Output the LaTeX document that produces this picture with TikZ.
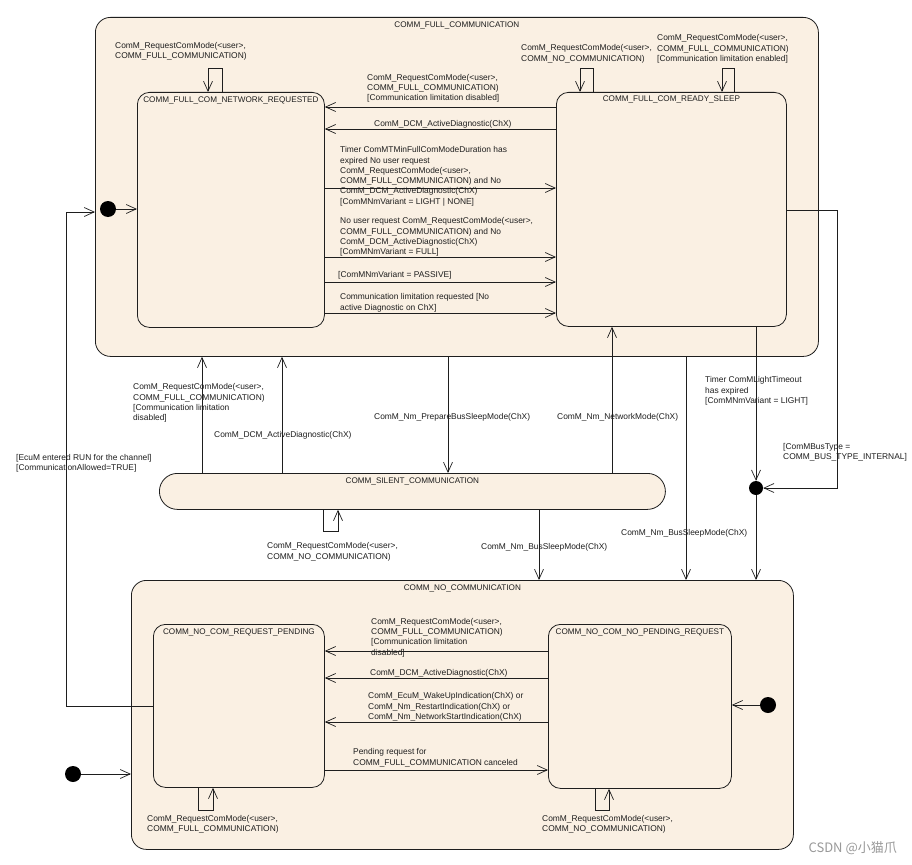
\documentclass[tikz,border=0pt]{standalone}
\usepackage{fontspec}
\setmainfont{Liberation Sans}
\newfontfamily\cjkfont{Noto Sans CJK SC}
\usetikzlibrary{arrows.meta}
\definecolor{stfill}{RGB}{250,240,227}
\definecolor{ink}{RGB}{30,30,30}
\begin{document}
\begin{tikzpicture}[x=1pt,y=-1pt,
  box/.style={draw=ink,line width=0.8pt,fill=stfill,rounded corners=12pt,inner sep=0pt,anchor=north west},
  lbl/.style={font=\fontsize{8.4}{10.3}\selectfont,align=left,inner sep=0pt,anchor=north west,text=ink},
  ttl/.style={lbl,font=\fontsize{8.15}{10.3}\selectfont,anchor=north,yshift=-4.5pt},
  tr/.style={draw=ink,line width=0.7pt,-{Straight Barb[length=10pt,width=9pt,line width=0.7pt]}},
  initdot/.style={circle,fill=black,inner sep=0pt,minimum size=16pt},
]
\useasboundingbox (0,0) rectangle (912,864);
\fill[white] (0,0) rectangle (912,864);

% states
\node[box,rounded corners=15pt,minimum width=723pt,minimum height=339pt,label={[ttl]north:COMM\_FULL\_COMMUNICATION}] (FULL) at (95,17) {};
\node[box,minimum width=187pt,minimum height=235pt,label={[ttl]north:COMM\_FULL\_COM\_NETWORK\_REQUESTED}] (NR) at (137,92) {};
\node[box,minimum width=230pt,minimum height=234pt,label={[ttl,yshift=1pt]north:COMM\_FULL\_COM\_READY\_SLEEP}] (RS) at (556,92) {};
\node[box,rounded corners=18pt,minimum width=506pt,minimum height=36pt,label={[ttl]north:COMM\_SILENT\_COMMUNICATION}] (SIL) at (159,473) {};
\node[box,rounded corners=15pt,minimum width=662pt,minimum height=269pt,label={[ttl]north:COMM\_NO\_COMMUNICATION}] (NOC) at (131,580) {};
\node[box,minimum width=171pt,minimum height=163pt,label={[ttl]north:COMM\_NO\_COM\_REQUEST\_PENDING}] (RP) at (153,624) {};
\node[box,minimum width=183pt,minimum height=164pt,label={[ttl]north:COMM\_NO\_COM\_NO\_PENDING\_REQUEST}] (NPR) at (548,624) {};

% pseudo states
\node[initdot] (i1) at (108,209) {};
\node[initdot] (i2) at (73,774) {};
\node[initdot] (i3) at (768,705) {};
\node[initdot,minimum size=14pt] (jn) at (756,488) {};
\coordinate (bt) at (837,0);
\coordinate (ec) at (66,0);

% transitions inside FULL
\draw[tr] (NR.north -| 222,0) -- ++(0,-24) -| (NR.north -| 208,0);
\draw[tr] (RS.north -| 593,0) -- ++(0,-24) -| (RS.north -| 580,0);
\draw[tr] (RS.north -| 734,0) -- ++(0,-24) -| (RS.north -| 722,0);
\draw[tr] (RS.west |- 0,107) -- (NR.east |- 0,107);
\draw[tr] (RS.west |- 0,129) -- (NR.east |- 0,129);
\draw[tr] (NR.east |- 0,188) -- (RS.west |- 0,188);
\draw[tr] (NR.east |- 0,257) -- (RS.west |- 0,257);
\draw[tr] (NR.east |- 0,282) -- (RS.west |- 0,282);
\draw[tr] (NR.east |- 0,313) -- (RS.west |- 0,313);
\draw[tr] (i1) -- (NR.west |- i1);

% FULL <-> SILENT, NO
\draw[tr] (SIL.north -| 202,0) -- (FULL.south -| 202,0);
\draw[tr] (SIL.north -| 282,0) -- (FULL.south -| 282,0);
\draw[tr] (FULL.south -| 448,0) -- (SIL.north -| 448,0);
\draw[tr] (SIL.north -| 612,0) -- (RS.south -| 612,0);
\draw[tr] (FULL.south -| 686,0) -- (NOC.north -| 686,0);
\draw[tr] (RS.south -| jn) -- (jn);
\draw[tr] (RS.east |- 0,210) -- (bt |- 0,210) -- (bt |- jn) -- (jn);
\draw[tr] (jn) -- (NOC.north -| jn);
\draw[tr] (SIL.south -| 539,0) -- (NOC.north -| 539,0);
\draw[tr] (SIL.south -| 323,0) -- ++(0,22) -| (SIL.south -| 338,0);
\draw[tr] (RP.west |- 0,706) -- (ec |- 0,706) -- (ec |- 0,212) -- (FULL.west |- 0,212);

% transitions inside NO
\draw[tr] (NPR.west |- 0,651) -- (RP.east |- 0,651);
\draw[tr] (NPR.west |- 0,678) -- (RP.east |- 0,678);
\draw[tr] (NPR.west |- 0,722) -- (RP.east |- 0,722);
\draw[tr] (RP.east |- 0,770) -- (NPR.west |- 0,770);
\draw[tr] (RP.south -| 198,0) -- ++(0,23) -| (RP.south -| 213,0);
\draw[tr] (NPR.south -| 595,0) -- ++(0,22) -| (NPR.south -| 609,0);
\draw[tr] (i2) -- (NOC.west |- i2);
\draw[tr] (i3) -- (NPR.east |- i3);

% labels
\node[lbl] (lnrloop) at (115,42) {ComM\_RequestComMode(<user>,\\COMM\_FULL\_COMMUNICATION)};
\node[lbl] (lrsloopa) at (521,44.5) {ComM\_RequestComMode(<user>,\\COMM\_NO\_COMMUNICATION)};
\node[lbl] (lrsloopb) at (657,34.5) {ComM\_RequestComMode(<user>,\\COMM\_FULL\_COMMUNICATION)\\{[}Communication limitation enabled]};
\node[lbl] (lta) at (367,74) {ComM\_RequestComMode(<user>,\\COMM\_FULL\_COMMUNICATION)\\{[}Communication limitation disabled]};
\node[lbl] (ltb) at (374,120) {ComM\_DCM\_ActiveDiagnostic(ChX)};
\node[lbl] (ltc) at (340,146.5) {Timer ComMTMinFullComModeDuration has\\expired No user request\\ComM\_RequestComMode(<user>,\\COMM\_FULL\_COMMUNICATION) and No\\ComM\_DCM\_ActiveDiagnostic(ChX)\\{[}ComMNmVariant = LIGHT | NONE]};
\node[lbl] (ltd) at (340,217.5) {No user request ComM\_RequestComMode(<user>,\\COMM\_FULL\_COMMUNICATION) and No\\ComM\_DCM\_ActiveDiagnostic(ChX)\\{[}ComMNmVariant = FULL]};
\node[lbl] (lte) at (338,271.5) {{[}ComMNmVariant = PASSIVE]};
\node[lbl] (ltf) at (340,293.5) {Communication limitation requested [No\\active Diagnostic on ChX]};
\node[lbl] (lsa) at (133,383.5) {ComM\_RequestComMode(<user>,\\COMM\_FULL\_COMMUNICATION)\\{[}Communication limitation\\disabled]};
\node[lbl] (lsb) at (214,431.5) {ComM\_DCM\_ActiveDiagnostic(ChX)};
\node[lbl] (lsc) at (374,413) {ComM\_Nm\_PrepareBusSleepMode(ChX)};
\node[lbl] (lsd) at (557,413) {ComM\_Nm\_NetworkMode(ChX)};
\node[lbl] (lbsa) at (621,529.5) {ComM\_Nm\_BusSleepMode(ChX)};
\node[lbl] (llight) at (705,376.5) {Timer ComMLightTimeout\\has expired\\{[}ComMNmVariant = LIGHT]};
\node[lbl] (lbus) at (783,443) {{[}ComMBusType =\\COMM\_BUS\_TYPE\_INTERNAL]};
\node[lbl] (lbsb) at (481,543.5) {ComM\_Nm\_BusSleepMode(ChX)};
\node[lbl] (lsil) at (267,542.5) {ComM\_RequestComMode(<user>,\\COMM\_NO\_COMMUNICATION)};
\node[lbl] (lecum) at (16,454) {{[}EcuM entered RUN for the channel]\\{[}CommunicationAllowed=TRUE]};
\node[lbl] (lna) at (371,618) {ComM\_RequestComMode(<user>,\\COMM\_FULL\_COMMUNICATION)\\{[}Communication limitation\\disabled]};
\node[lbl] (lnb) at (370,669.5) {ComM\_DCM\_ActiveDiagnostic(ChX)};
\node[lbl] (lnc) at (368,692.5) {ComM\_EcuM\_WakeUpIndication(ChX) or\\ComM\_Nm\_RestartIndication(ChX) or\\ComM\_Nm\_NetworkStartIndication(ChX)};
\node[lbl] (lnd) at (353,748.5) {Pending request for\\COMM\_FULL\_COMMUNICATION canceled};
\node[lbl] (lrp) at (147,815) {ComM\_RequestComMode(<user>,\\COMM\_FULL\_COMMUNICATION)};
\node[lbl] (lnpr) at (542,815) {ComM\_RequestComMode(<user>,\\COMM\_NO\_COMMUNICATION)};

\node[font=\cjkfont\fontsize{13}{13}\selectfont,text=black!40,anchor=east,inner sep=0pt] (wm) at (897,848) {CSDN @小猫爪};
\end{tikzpicture}
\end{document}
